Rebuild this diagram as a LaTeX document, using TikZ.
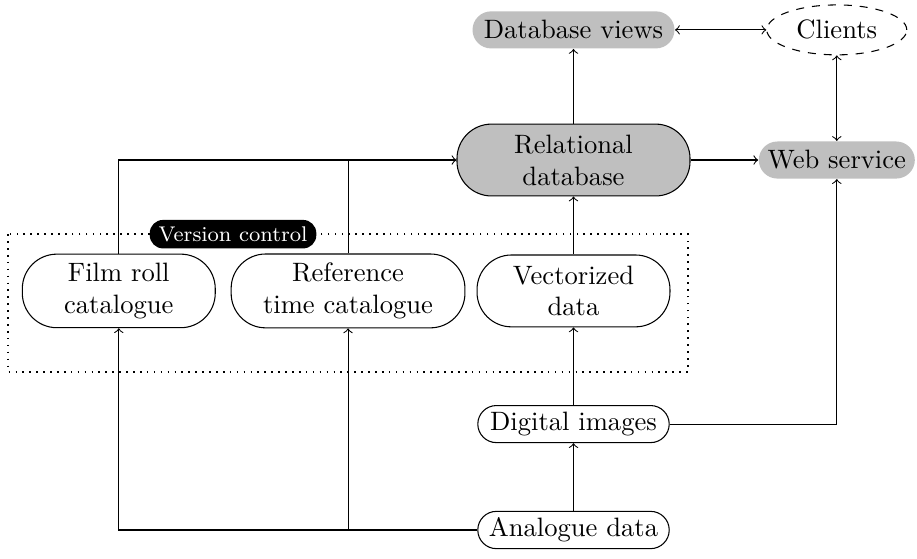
\documentclass[tikz,border=0pt]{standalone}
\usetikzlibrary{shapes.geometric}
\begin{document}
\begin{tikzpicture}[
		catbox/.style={draw, rounded corners=13pt, align=center, minimum width=2.55cm, minimum height=0.95cm},
		databox/.style={draw, rounded corners=7pt, inner ysep=2.4pt, minimum width=2.53cm, minimum height=0.49cm},
		viewbox/.style={fill=gray!50, rounded corners=7pt, inner ysep=2.4pt, minimum height=0.49cm},
		tagbox/.style={fill=black, text=white, rounded corners=5pt, font=\footnotesize, inner ysep=2.5pt}]
		\useasboundingbox (0,0) rectangle (12.12,7.375);
		\def\mx{7.58};
		\coordinate (A) at (\mx,0.37);
		\coordinate (D) at (\mx,1.77);
		\coordinate (V) at (\mx,3.53);
		\coordinate (R) at (\mx,5.26);
		\coordinate (W) at (11.06,5.26);
		% version control box
		\draw[semithick, dotted] (0.106,4.28) rectangle (9.09,2.46);
		\node[tagbox] (vc) at (3.08,4.28) {Version control};
		% nodes
		\node[databox] (analogue) at (A) {Analogue data};
		\node[databox] (digital) at (D) {Digital images};
		\node[catbox] (vector) at (V) {Vectorized\\data};
		\node[catbox] (film) at (1.57,3.53) {Film roll\\catalogue};
		\node[catbox, minimum width=3.09cm] (reftime) at (4.60,3.53) {Reference\\time catalogue};
		\node[catbox, fill=gray!50, minimum width=3.08cm] (reldb) at (R) {Relational\\database};
		\node[viewbox, minimum width=2.67cm] (views) at (\mx,6.98) {Database views};
		\node[viewbox] (websvc) at (W) {Web service};
		\node[draw, dashed, ellipse, inner sep=1pt, minimum width=1.85cm, minimum height=0.66cm] (clients) at (11.06,6.98) {Clients};
		% connectors
		\draw[->] (analogue) -- (digital);
		\draw[->] (digital) -- (vector);
		\draw[->] (vector) -- (reldb);
		\draw[->] (reldb) -- (views);
		\draw[->] (reldb) -- (websvc);
		\draw[<->] (views) -- (clients);
		\draw[<->] (clients) -- (websvc);
		\draw[->] (digital.east) -| (websvc.south);
		\draw[->] (analogue.west) -| (film.south);
		\draw[->] (analogue.west -| reftime.south) -- (reftime.south);
		\draw[->] (film.north) |- (reldb.west);
		\draw (reftime.north) -- (reftime.north |- reldb.west);
\end{tikzpicture}
\end{document}
